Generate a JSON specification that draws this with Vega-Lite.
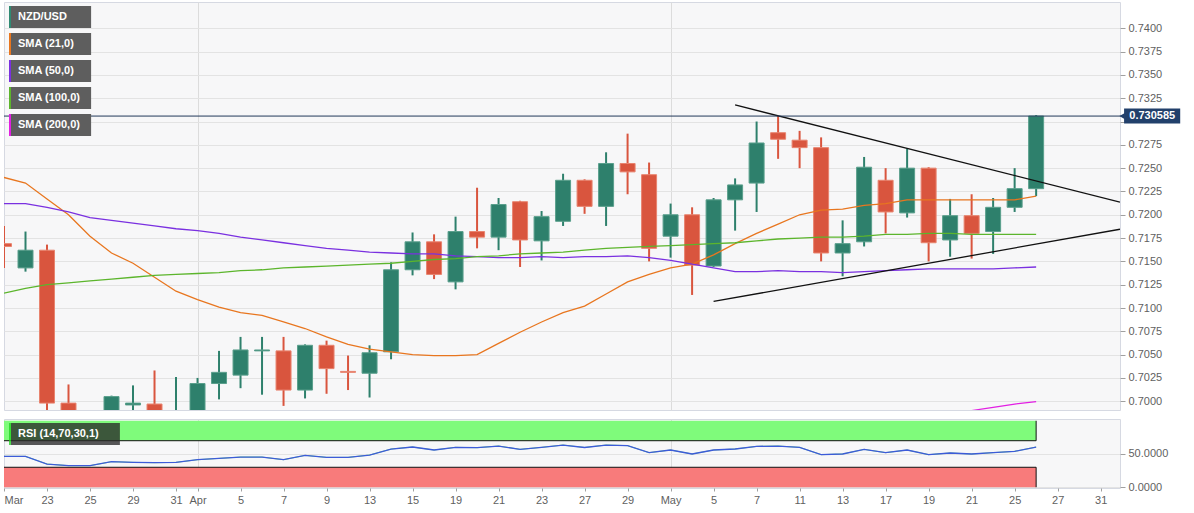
{
  "$schema": "https://vega.github.io/schema/vega-lite/v6.json",
  "padding": {"left": 0, "top": 1, "right": 0, "bottom": 0},
  "background": "#ffffff",
  "config": {
    "font": "Liberation Sans",
    "view": {"fill": "#f7f7f8", "stroke": "#d6d9e2", "strokeWidth": 1},
    "axis": {"labelFont": "Liberation Sans", "labelFontSize": 11, "labelColor": "#5f5f5f", "tickColor": "#a0a0a0", "gridColor": "#e3e3e3", "domain": false, "title": null, "labelOverlap": false},
    "scale": {"continuousPadding": 0}
  },
  "datasets": {
    "prices": [
      {"date": "2021-03-19", "d": -1, "open": 0.7169, "high": 0.7188, "low": 0.7143, "close": 0.7166, "sma21": 0.7240, "sma50": 0.7212, "sma100": 0.7116, "rsi": 46.4},
      {"date": "2021-03-22", "d": 0, "open": 0.7143, "high": 0.7182, "low": 0.7139, "close": 0.7162, "sma21": 0.7234, "sma50": 0.7212, "sma100": 0.7121, "rsi": 46.4},
      {"date": "2021-03-23", "d": 1, "open": 0.7162, "high": 0.7168, "low": 0.6975, "close": 0.6998, "sma21": 0.7217, "sma50": 0.7208, "sma100": 0.7125, "rsi": 34.9},
      {"date": "2021-03-24", "d": 2, "open": 0.6998, "high": 0.7018, "low": 0.6944, "close": 0.6960, "sma21": 0.7200, "sma50": 0.7203, "sma100": 0.7127, "rsi": 32.4},
      {"date": "2021-03-25", "d": 3, "open": 0.6960, "high": 0.6986, "low": 0.6943, "close": 0.6975, "sma21": 0.7177, "sma50": 0.7197, "sma100": 0.7129, "rsi": 32.4},
      {"date": "2021-03-26", "d": 4, "open": 0.6975, "high": 0.7006, "low": 0.6960, "close": 0.7005, "sma21": 0.7159, "sma50": 0.7194, "sma100": 0.7131, "rsi": 38.4},
      {"date": "2021-03-29", "d": 5, "open": 0.6996, "high": 0.7017, "low": 0.6965, "close": 0.6998, "sma21": 0.7148, "sma50": 0.7191, "sma100": 0.7133, "rsi": 37.4},
      {"date": "2021-03-30", "d": 6, "open": 0.6997, "high": 0.7033, "low": 0.6960, "close": 0.6975, "sma21": 0.7133, "sma50": 0.7188, "sma100": 0.7135, "rsi": 36.9},
      {"date": "2021-03-31", "d": 7, "open": 0.6965, "high": 0.7026, "low": 0.6943, "close": 0.6983, "sma21": 0.7118, "sma50": 0.7185, "sma100": 0.7136, "rsi": 37.4},
      {"date": "2021-04-01", "d": 8, "open": 0.6983, "high": 0.7025, "low": 0.6975, "close": 0.7019, "sma21": 0.7109, "sma50": 0.7183, "sma100": 0.7137, "rsi": 41.4},
      {"date": "2021-04-02", "d": 9, "open": 0.7019, "high": 0.7054, "low": 0.7002, "close": 0.7031, "sma21": 0.7101, "sma50": 0.7180, "sma100": 0.7138, "rsi": 43.4},
      {"date": "2021-04-05", "d": 10, "open": 0.7028, "high": 0.7069, "low": 0.7014, "close": 0.7055, "sma21": 0.7095, "sma50": 0.7176, "sma100": 0.7140, "rsi": 45.4},
      {"date": "2021-04-06", "d": 11, "open": 0.7054, "high": 0.7069, "low": 0.7007, "close": 0.7055, "sma21": 0.7092, "sma50": 0.7173, "sma100": 0.7141, "rsi": 45.4},
      {"date": "2021-04-07", "d": 12, "open": 0.7054, "high": 0.7069, "low": 0.6995, "close": 0.7012, "sma21": 0.7085, "sma50": 0.7170, "sma100": 0.7143, "rsi": 41.4},
      {"date": "2021-04-08", "d": 13, "open": 0.7012, "high": 0.7061, "low": 0.7003, "close": 0.7060, "sma21": 0.7078, "sma50": 0.7167, "sma100": 0.7144, "rsi": 47.9},
      {"date": "2021-04-09", "d": 14, "open": 0.7060, "high": 0.7065, "low": 0.7008, "close": 0.7035, "sma21": 0.7069, "sma50": 0.7164, "sma100": 0.7145, "rsi": 44.9},
      {"date": "2021-04-12", "d": 15, "open": 0.7032, "high": 0.7049, "low": 0.7012, "close": 0.7031, "sma21": 0.7061, "sma50": 0.7162, "sma100": 0.7146, "rsi": 44.9},
      {"date": "2021-04-13", "d": 16, "open": 0.7030, "high": 0.7060, "low": 0.7004, "close": 0.7052, "sma21": 0.7056, "sma50": 0.7160, "sma100": 0.7147, "rsi": 48.4},
      {"date": "2021-04-14", "d": 17, "open": 0.7053, "high": 0.7149, "low": 0.7045, "close": 0.7141, "sma21": 0.7053, "sma50": 0.7159, "sma100": 0.7148, "rsi": 57.5},
      {"date": "2021-04-15", "d": 18, "open": 0.7141, "high": 0.7181, "low": 0.7135, "close": 0.7171, "sma21": 0.7050, "sma50": 0.7158, "sma100": 0.7150, "rsi": 60.5},
      {"date": "2021-04-16", "d": 19, "open": 0.7171, "high": 0.7179, "low": 0.7131, "close": 0.7136, "sma21": 0.7049, "sma50": 0.7158, "sma100": 0.7152, "rsi": 56},
      {"date": "2021-04-19", "d": 20, "open": 0.7128, "high": 0.7198, "low": 0.7120, "close": 0.7182, "sma21": 0.7049, "sma50": 0.7156, "sma100": 0.7153, "rsi": 60},
      {"date": "2021-04-20", "d": 21, "open": 0.7182, "high": 0.7229, "low": 0.7164, "close": 0.7176, "sma21": 0.7050, "sma50": 0.7155, "sma100": 0.7155, "rsi": 59.5},
      {"date": "2021-04-21", "d": 22, "open": 0.7176, "high": 0.7218, "low": 0.7162, "close": 0.7211, "sma21": 0.7062, "sma50": 0.7154, "sma100": 0.7156, "rsi": 62},
      {"date": "2021-04-22", "d": 23, "open": 0.7214, "high": 0.7215, "low": 0.7144, "close": 0.7173, "sma21": 0.7074, "sma50": 0.7154, "sma100": 0.7158, "rsi": 57},
      {"date": "2021-04-23", "d": 24, "open": 0.7172, "high": 0.7204, "low": 0.7151, "close": 0.7198, "sma21": 0.7085, "sma50": 0.7155, "sma100": 0.7159, "rsi": 60},
      {"date": "2021-04-26", "d": 25, "open": 0.7193, "high": 0.7244, "low": 0.7188, "close": 0.7237, "sma21": 0.7095, "sma50": 0.7154, "sma100": 0.7160, "rsi": 63.5},
      {"date": "2021-04-27", "d": 26, "open": 0.7237, "high": 0.7238, "low": 0.7201, "close": 0.7209, "sma21": 0.7102, "sma50": 0.7155, "sma100": 0.7162, "rsi": 59.8},
      {"date": "2021-04-28", "d": 27, "open": 0.7209, "high": 0.7267, "low": 0.7188, "close": 0.7255, "sma21": 0.7115, "sma50": 0.7155, "sma100": 0.7164, "rsi": 63.5},
      {"date": "2021-04-29", "d": 28, "open": 0.7255, "high": 0.7287, "low": 0.7222, "close": 0.7246, "sma21": 0.7128, "sma50": 0.7156, "sma100": 0.7165, "rsi": 62.6},
      {"date": "2021-04-30", "d": 29, "open": 0.7243, "high": 0.7256, "low": 0.7150, "close": 0.7164, "sma21": 0.7136, "sma50": 0.7154, "sma100": 0.7166, "rsi": 52},
      {"date": "2021-05-03", "d": 30, "open": 0.7177, "high": 0.7212, "low": 0.7154, "close": 0.7200, "sma21": 0.7143, "sma50": 0.7151, "sma100": 0.7167, "rsi": 56},
      {"date": "2021-05-04", "d": 31, "open": 0.7200, "high": 0.7208, "low": 0.7114, "close": 0.7146, "sma21": 0.7147, "sma50": 0.7147, "sma100": 0.7168, "rsi": 50},
      {"date": "2021-05-05", "d": 32, "open": 0.7145, "high": 0.7218, "low": 0.7144, "close": 0.7216, "sma21": 0.7157, "sma50": 0.7143, "sma100": 0.7169, "rsi": 56},
      {"date": "2021-05-06", "d": 33, "open": 0.7216, "high": 0.7239, "low": 0.7183, "close": 0.7232, "sma21": 0.7169, "sma50": 0.7139, "sma100": 0.7170, "rsi": 57.5},
      {"date": "2021-05-07", "d": 34, "open": 0.7234, "high": 0.7300, "low": 0.7203, "close": 0.7277, "sma21": 0.7180, "sma50": 0.7139, "sma100": 0.7172, "rsi": 61.5},
      {"date": "2021-05-10", "d": 35, "open": 0.7288, "high": 0.7306, "low": 0.7260, "close": 0.7281, "sma21": 0.7190, "sma50": 0.7140, "sma100": 0.7174, "rsi": 62},
      {"date": "2021-05-11", "d": 36, "open": 0.7280, "high": 0.7290, "low": 0.7250, "close": 0.7272, "sma21": 0.7200, "sma50": 0.7139, "sma100": 0.7175, "rsi": 60},
      {"date": "2021-05-12", "d": 37, "open": 0.7272, "high": 0.7283, "low": 0.7150, "close": 0.7159, "sma21": 0.7205, "sma50": 0.7139, "sma100": 0.7176, "rsi": 49},
      {"date": "2021-05-13", "d": 38, "open": 0.7159, "high": 0.7194, "low": 0.7134, "close": 0.7169, "sma21": 0.7206, "sma50": 0.7138, "sma100": 0.7176, "rsi": 50},
      {"date": "2021-05-14", "d": 39, "open": 0.7171, "high": 0.7262, "low": 0.7166, "close": 0.7251, "sma21": 0.7210, "sma50": 0.7139, "sma100": 0.7177, "rsi": 57},
      {"date": "2021-05-17", "d": 40, "open": 0.7237, "high": 0.7250, "low": 0.7180, "close": 0.7203, "sma21": 0.7212, "sma50": 0.7140, "sma100": 0.7179, "sma200": 0.6976, "rsi": 52},
      {"date": "2021-05-18", "d": 41, "open": 0.7202, "high": 0.7271, "low": 0.7197, "close": 0.7250, "sma21": 0.7216, "sma50": 0.7141, "sma100": 0.7179, "sma200": 0.6980, "rsi": 56},
      {"date": "2021-05-19", "d": 42, "open": 0.7250, "high": 0.7251, "low": 0.7150, "close": 0.7170, "sma21": 0.7216, "sma50": 0.7142, "sma100": 0.7180, "sma200": 0.6983, "rsi": 49},
      {"date": "2021-05-20", "d": 43, "open": 0.7173, "high": 0.7217, "low": 0.7155, "close": 0.7199, "sma21": 0.7216, "sma50": 0.7142, "sma100": 0.7180, "sma200": 0.6987, "rsi": 51.5},
      {"date": "2021-05-21", "d": 44, "open": 0.7199, "high": 0.7222, "low": 0.7153, "close": 0.7180, "sma21": 0.7216, "sma50": 0.7142, "sma100": 0.7179, "sma200": 0.6990, "rsi": 50},
      {"date": "2021-05-24", "d": 45, "open": 0.7182, "high": 0.7218, "low": 0.7158, "close": 0.7208, "sma21": 0.7216, "sma50": 0.7142, "sma100": 0.7179, "sma200": 0.69935, "rsi": 52},
      {"date": "2021-05-25", "d": 46, "open": 0.7208, "high": 0.7250, "low": 0.7203, "close": 0.7228, "sma21": 0.7216, "sma50": 0.7143, "sma100": 0.7179, "sma200": 0.6997, "rsi": 54},
      {"date": "2021-05-26", "d": 47, "open": 0.7228, "high": 0.7307, "low": 0.7220, "close": 0.730585, "sma21": 0.7220, "sma50": 0.7144, "sma100": 0.7179, "sma200": 0.69995, "rsi": 60.5}
    ],
    "trend": [
      {"line": "upper", "d": 33.0, "price": 0.73178},
      {"line": "upper", "d": 50.9, "price": 0.72136},
      {"line": "lower", "d": 32.0, "price": 0.7107},
      {"line": "lower", "d": 50.9, "price": 0.71845}
    ],
    "bands": [
      {"zone": "overbought", "lo": 70, "hi": 100, "level": 70},
      {"zone": "oversold", "lo": 0, "hi": 30, "level": 30}
    ]
  },
  "spacing": 7,
  "resolve": {"scale": {"x": "independent", "y": "independent", "color": "independent"}, "legend": {"color": "independent"}},
  "vconcat": [
    {
      "width": 1116,
      "height": 408,
      "data": {"name": "prices"},
      "layer": [
        {
          "mark": {"type": "rule", "clip": true, "strokeWidth": 2},
          "encoding": {
            "x": {"field": "d", "type": "quantitative", "scale": {"domain": [-1, 50.9], "nice": false, "zero": false, "padding": 0},
                  "axis": {"values": [8, 30], "labels": false, "ticks": false, "grid": true, "gridColor": "#dcdcdc"}},
            "y": {"field": "low", "type": "quantitative", "scale": {"domain": [0.69906, 0.74282], "nice": false, "zero": false, "padding": 0},
                  "axis": {"orient": "right", "values": [0.7, 0.7025, 0.705, 0.7075, 0.71, 0.7125, 0.715, 0.7175, 0.72, 0.7225, 0.725, 0.7275, 0.73, 0.7325, 0.735, 0.7375, 0.74], "tickCount": 40, "format": ".4f", "labelExpr": "datum.value == 0.73 ? '' : datum.label", "labelOverlap": false, "tickSize": 5, "labelPadding": 3, "grid": true}},
            "y2": {"field": "high"},
            "color": {"condition": {"test": "datum.close >= datum.open", "value": "#2e806c"}, "value": "#d9553e"}
          }
        },
        {
          "mark": {"type": "bar", "clip": true, "size": 15, "strokeWidth": 1},
          "encoding": {
            "x": {"field": "d", "type": "quantitative"},
            "y": {"field": "open", "type": "quantitative"},
            "y2": {"field": "close"},
            "color": {"condition": {"test": "datum.close >= datum.open", "value": "#2e806c"}, "value": "#d9553e"},
            "stroke": {"condition": {"test": "datum.close >= datum.open", "value": "#5a9f8c"}, "value": "#e8846f"}
          }
        },
        {
          "transform": [{"fold": ["sma21", "sma50", "sma100", "sma200"], "as": ["series", "value"]}],
          "mark": {"type": "line", "clip": true, "strokeWidth": 1.3},
          "encoding": {
            "x": {"field": "d", "type": "quantitative"},
            "y": {"field": "value", "type": "quantitative"},
            "color": {
              "field": "series", "type": "nominal",
              "scale": {"domain": ["nzdusd", "sma21", "sma50", "sma100", "sma200"], "range": ["#2f8a73", "#e8761f", "#7a30e0", "#5cb52c", "#e21fe3"]},
              "legend": {
                "title": null, "orient": "none", "legendX": 5, "legendY": 4,
                "symbolType": "M-1.222,-1.222V1.222H7.9V-1.222Z",
                "symbolSize": 324, "symbolStrokeWidth": 4, "symbolFillColor": "#5e5e5e",
                "symbolDash": [22, 1000], "symbolOpacity": 1,
                "labelOffset": -13, "labelColor": "#ffffff", "labelFont": "Liberation Sans", "labelFontWeight": "bold", "labelFontSize": 11,
                "clipHeight": 22, "rowPadding": 5, "padding": 0,
                "labelExpr": "(datum.label == 'nzdusd' ? 'NZD/USD' : datum.label == 'sma21' ? 'SMA (21,0)' : datum.label == 'sma50' ? 'SMA (50,0)' : datum.label == 'sma100' ? 'SMA (100,0)' : 'SMA (200,0)') + '\u2800\u2800\u2800'"
              }
            }
          }
        },
        {
          "data": {"name": "trend"},
          "mark": {"type": "line", "clip": true, "color": "#111111", "strokeWidth": 1.3},
          "encoding": {
            "x": {"field": "d", "type": "quantitative"},
            "y": {"field": "price", "type": "quantitative"},
            "detail": {"field": "line"}
          }
        },
        {
          "transform": [{"filter": "datum.d == 47"}],
          "mark": {"type": "rule", "color": "#22395a", "strokeWidth": 1},
          "encoding": {
            "x": {"datum": -1, "type": "quantitative"},
            "x2": {"datum": 51.0},
            "y": {"field": "close", "type": "quantitative"}
          }
        },
        {
          "transform": [{"filter": "datum.d == 47"}],
          "mark": {"type": "point", "shape": "triangle-left", "filled": true, "size": 40, "color": "#22406b", "opacity": 1},
          "encoding": {
            "x": {"datum": 51.0, "type": "quantitative"},
            "y": {"field": "close", "type": "quantitative"}
          }
        },
        {
          "transform": [{"filter": "datum.d == 47"}],
          "mark": {"type": "rect", "height": 15, "color": "#22406b"},
          "encoding": {
            "x": {"datum": 51.09, "type": "quantitative"},
            "x2": {"datum": 53.7},
            "y": {"field": "close", "type": "quantitative"}
          }
        },
        {
          "transform": [{"filter": "datum.d == 47"}],
          "mark": {"type": "text", "color": "#ffffff", "fontWeight": "bold", "fontSize": 11, "align": "center", "baseline": "middle"},
          "encoding": {
            "x": {"datum": 52.4, "type": "quantitative"},
            "y": {"field": "close", "type": "quantitative"},
            "text": {"field": "close", "type": "quantitative", "format": ".6f"}
          }
        }
      ]
    },
    {
      "width": 1116,
      "height": 69,
      "layer": [
        {
          "data": {"name": "bands"},
          "mark": {"type": "rect"},
          "encoding": {
            "x": {"datum": -1, "type": "quantitative", "scale": {"domain": [-1, 50.9], "nice": false, "zero": false, "padding": 0},
                  "axis": {"values": [-1, 1, 3, 5, 7, 8, 10, 12, 14, 16, 18, 20, 22, 24, 26, 28, 30, 32, 34, 36, 38, 40, 42, 44, 46, 48, 50], "tickCount": 60,
                           "labelExpr": "['Mar','','23','','25','','29','','31','Apr','','5','','7','','9','','13','','15','','19','','21','','23','','27','','29','','May','','5','','7','','11','','13','','17','','19','','21','','25','','27','','31'][datum.value + 1]",
                           "labelFlush": true, "labelOverlap": false, "tickSize": 3, "labelPadding": 3,
                           "grid": true, "gridColor": "#dcdcdc",
                           "gridOpacity": {"condition": {"test": "datum.value == 8 || datum.value == 30", "value": 1}, "value": 0}}},
            "x2": {"datum": 47},
            "y": {"field": "lo", "type": "quantitative", "scale": {"domain": [-1.2, 102.7], "nice": false, "zero": false, "padding": 0},
                  "axis": {"orient": "right", "values": [0, 50], "format": ".4f", "tickSize": 5, "labelPadding": 3, "grid": true}},
            "y2": {"field": "hi"},
            "color": {"condition": {"test": "datum.zone == 'overbought'", "value": "#7ffb7b"}, "value": "#f87b7b"}
          }
        },
        {
          "data": {"name": "bands"},
          "mark": {"type": "rule", "color": "#111111", "strokeWidth": 1},
          "encoding": {
            "x": {"datum": -1, "type": "quantitative"},
            "x2": {"datum": 47},
            "y": {"field": "level", "type": "quantitative"}
          }
        },
        {
          "data": {"name": "bands"},
          "mark": {"type": "rule", "color": "#111111", "strokeWidth": 1},
          "encoding": {
            "x": {"datum": 47, "type": "quantitative"},
            "y": {"field": "lo", "type": "quantitative"},
            "y2": {"field": "hi"}
          }
        },
        {
          "data": {"name": "prices"},
          "mark": {"type": "line", "strokeWidth": 0.6},
          "encoding": {
            "x": {"field": "d", "type": "quantitative"},
            "y": {"field": "rsi", "type": "quantitative"},
            "color": {
              "datum": "RSI (14,70,30,1)",
              "scale": {"range": ["#1fd41f"]},
              "legend": {
                "title": null, "orient": "none", "legendX": 5, "legendY": 4,
                "symbolType": "M-1.222,-1.222V1.222H11.1V-1.222Z",
                "symbolSize": 324, "symbolStrokeWidth": 4, "symbolFillColor": "#2a2a2a",
                "symbolDash": [22, 1000], "symbolOpacity": 0.78,
                "labelOffset": -13, "labelColor": "#ffffff", "labelFont": "Liberation Sans", "labelFontWeight": "bold", "labelFontSize": 11,
                "labelExpr": "datum.label + '\u2800\u2800\u2800'",
                "clipHeight": 22, "padding": 0
              }
            }
          }
        },
        {
          "data": {"name": "prices"},
          "mark": {"type": "line", "strokeWidth": 1.3, "color": "#3d5bd9"},
          "encoding": {
            "x": {"field": "d", "type": "quantitative"},
            "y": {"field": "rsi", "type": "quantitative"}
          }
        }
      ]
    }
  ]
}
